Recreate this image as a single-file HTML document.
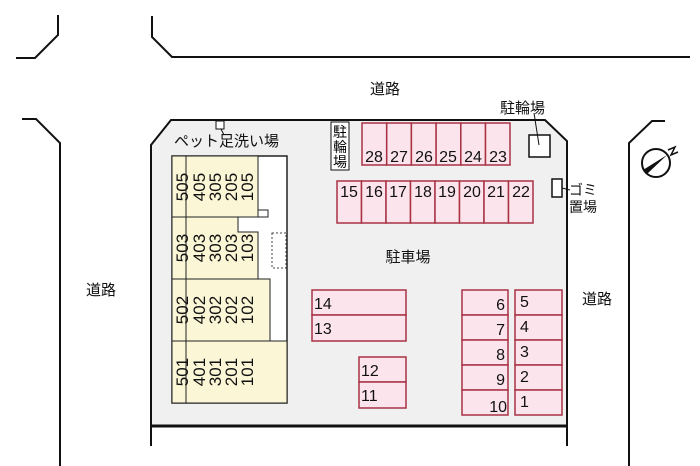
<html><head><style>body{margin:0;background:#fff}svg{display:block}text{font-family:"Liberation Sans","Noto Sans CJK JP",sans-serif}</style></head><body>
<svg width="700" height="466" viewBox="0 0 700 466">
<g fill="none" stroke="#111" stroke-width="2">
<polyline points="58,15 58,35 35,58 16,58"/>
<polyline points="152,16 152,37 172,57 690,57"/>
<polyline points="22,119 36,119 60,143 60,466"/>
<polyline points="665,121 652,121 629,143 629,466"/>
</g>
<polygon points="151,145 171,120 545,120 567,141 567,426 151,426" fill="#f0f0f0" stroke="none"/>
<polyline points="151,446 151,145 171,120 545,120 567,141 567,446" fill="none" stroke="#111" stroke-width="2"/>
<line x1="151" y1="426" x2="567" y2="426" stroke="#111" stroke-width="3"/>
<rect x="172" y="156" width="115" height="247" fill="#fff" stroke="#222" stroke-width="1.5"/>
<g fill="#fbf7d6" stroke="#222" stroke-width="1">
<rect x="172" y="156" width="86" height="61"/>
<path d="M172,217 H238 V232 H258 V279 H172 Z"/>
<rect x="172" y="279" width="98" height="62"/>
<rect x="172" y="341" width="115" height="62"/>
</g>
<rect x="258" y="210" width="10" height="7" fill="#fff" stroke="#222" stroke-width="1"/>
<rect x="272" y="233" width="14" height="35" fill="none" stroke="#444" stroke-dasharray="2,2"/>
<line x1="186" y1="156" x2="186" y2="403" stroke="#222"/>
<g font-size="17" fill="#111" text-anchor="middle">
<g transform="translate(188,187) rotate(-90)"><text>505</text></g>
<g transform="translate(205,187) rotate(-90)"><text>405</text></g>
<g transform="translate(221,187) rotate(-90)"><text>305</text></g>
<g transform="translate(237,187) rotate(-90)"><text>205</text></g>
<g transform="translate(253,187) rotate(-90)"><text>105</text></g>
<g transform="translate(188,248) rotate(-90)"><text>503</text></g>
<g transform="translate(205,248) rotate(-90)"><text>403</text></g>
<g transform="translate(221,248) rotate(-90)"><text>303</text></g>
<g transform="translate(237,248) rotate(-90)"><text>203</text></g>
<g transform="translate(253,248) rotate(-90)"><text>103</text></g>
<g transform="translate(188,310) rotate(-90)"><text>502</text></g>
<g transform="translate(205,310) rotate(-90)"><text>402</text></g>
<g transform="translate(221,310) rotate(-90)"><text>302</text></g>
<g transform="translate(237,310) rotate(-90)"><text>202</text></g>
<g transform="translate(253,310) rotate(-90)"><text>102</text></g>
<g transform="translate(188,372) rotate(-90)"><text>501</text></g>
<g transform="translate(205,372) rotate(-90)"><text>401</text></g>
<g transform="translate(221,372) rotate(-90)"><text>301</text></g>
<g transform="translate(237,372) rotate(-90)"><text>201</text></g>
<g transform="translate(253,372) rotate(-90)"><text>101</text></g>
</g>
<rect x="216" y="121" width="8" height="8" fill="#fff" stroke="#111"/>
<line x1="221" y1="129" x2="224" y2="135" stroke="#111"/>
<text x="174" y="146" font-size="15" fill="#111">ペット足洗い場</text>
<rect x="331" y="122" width="18" height="48" fill="#fff" stroke="#111"/>
<text x="340" y="137" font-size="14" text-anchor="middle">駐</text>
<text x="340" y="152" font-size="14" text-anchor="middle">輪</text>
<text x="340" y="167" font-size="14" text-anchor="middle">場</text>
<g fill="#fce4ec" stroke="#a83244" stroke-width="1.5">
<rect x="362" y="123" width="24.7" height="42"/><rect x="386.7" y="123" width="24.7" height="42"/><rect x="411.4" y="123" width="24.7" height="42"/><rect x="436.1" y="123" width="24.7" height="42"/><rect x="460.8" y="123" width="24.7" height="42"/><rect x="485.5" y="123" width="24.5" height="42"/>
<rect x="337" y="181" width="24.5" height="42"/><rect x="361.5" y="181" width="24.5" height="42"/><rect x="386" y="181" width="24.5" height="42"/><rect x="410.5" y="181" width="24.5" height="42"/><rect x="435" y="181" width="24.5" height="42"/><rect x="459.5" y="181" width="24.5" height="42"/><rect x="484" y="181" width="24.5" height="42"/><rect x="508.5" y="181" width="24.5" height="42"/>
<rect x="312" y="290" width="94" height="25"/><rect x="312" y="315" width="94" height="26"/>
<rect x="359" y="357" width="47" height="25"/><rect x="359" y="382" width="47" height="26"/>
<rect x="462" y="290" width="46" height="25"/><rect x="462" y="315" width="46" height="25"/><rect x="462" y="340" width="46" height="25"/><rect x="462" y="365" width="46" height="25"/><rect x="462" y="390" width="46" height="25"/>
<rect x="515" y="290" width="47" height="25"/><rect x="515" y="315" width="47" height="25"/><rect x="515" y="340" width="47" height="25"/><rect x="515" y="365" width="47" height="25"/><rect x="515" y="390" width="47" height="25"/>
</g>
<g font-size="16" fill="#111" text-anchor="middle">
<text x="374" y="162">28</text><text x="399" y="162">27</text><text x="424" y="162">26</text><text x="448" y="162">25</text><text x="473" y="162">24</text><text x="498" y="162">23</text>
<text x="349" y="197">15</text><text x="374" y="197">16</text><text x="398" y="197">17</text><text x="423" y="197">18</text><text x="447" y="197">19</text><text x="472" y="197">20</text><text x="496" y="197">21</text><text x="521" y="197">22</text>
</g>
<g font-size="16" fill="#111">
<text x="314" y="309">14</text><text x="314" y="334">13</text>
<text x="361" y="376">12</text><text x="361" y="401">11</text>
<g text-anchor="end"><text x="505" y="310">6</text><text x="505" y="335">7</text><text x="505" y="360">8</text><text x="505" y="385">9</text><text x="507" y="412">10</text></g>
<text x="520" y="307">5</text><text x="520" y="332">4</text><text x="520" y="357">3</text><text x="520" y="382">2</text><text x="520" y="407">1</text>
</g>
<rect x="529" y="135" width="21" height="22" fill="#fff" stroke="#111" stroke-width="1.5"/>
<line x1="539" y1="145" x2="534" y2="113" stroke="#111"/>
<rect x="552" y="179" width="10" height="18" fill="#fff" stroke="#111" stroke-width="1.5"/>
<line x1="562" y1="188" x2="570" y2="190" stroke="#111"/>
<g font-size="15" fill="#111">
<text x="500" y="113">駐輪場</text>
<text x="569" y="195" font-size="14">ゴミ</text>
<text x="569" y="212" font-size="14">置場</text>
<text x="408" y="262" text-anchor="middle">駐車場</text>
<text x="385" y="94" text-anchor="middle">道路</text>
<text x="101" y="295" text-anchor="middle">道路</text>
<text x="597" y="304" text-anchor="middle">道路</text>
</g>
<circle cx="656" cy="163" r="14" fill="#fff" stroke="#111" stroke-width="2"/>
<polygon points="643,170 667,155 647,174" fill="#111"/>
<path d="M668,150 L675,147 L671,155 L678,152" fill="none" stroke="#111" stroke-width="1.5"/>
</svg></body></html>
